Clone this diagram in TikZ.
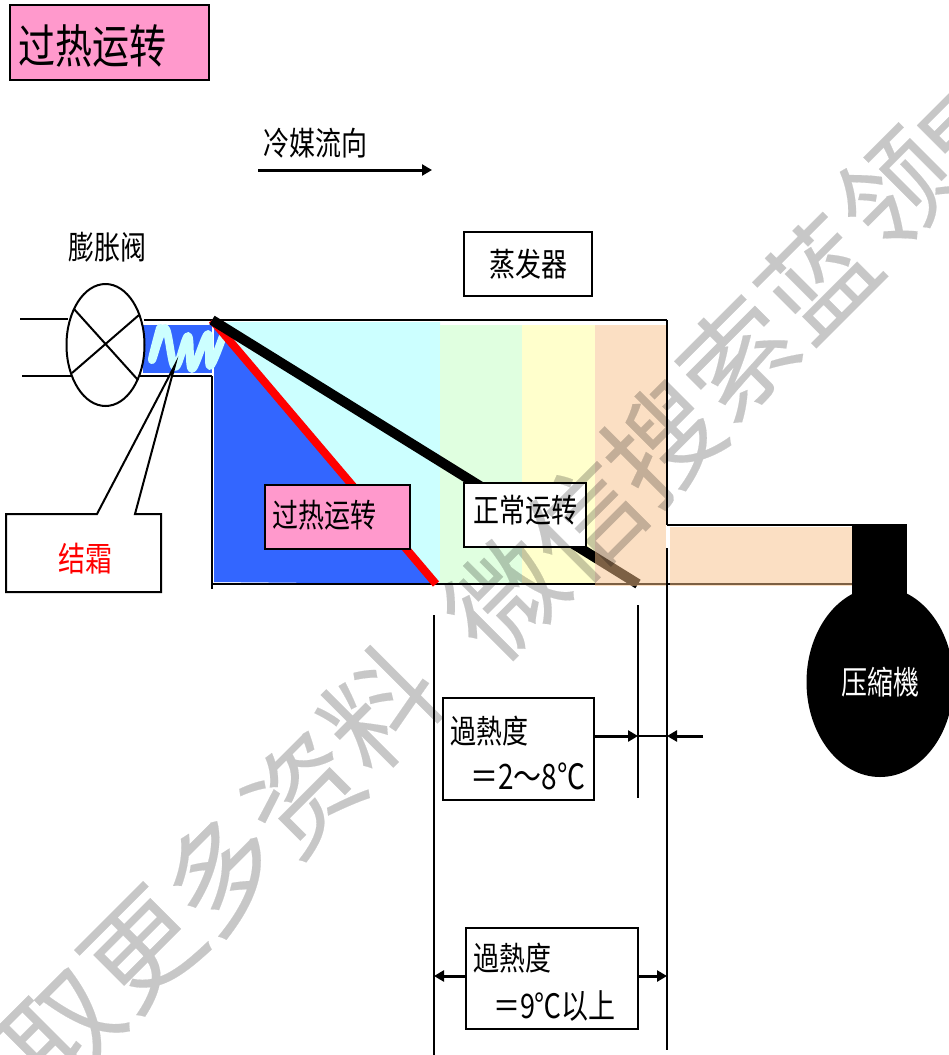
\documentclass[tikz,border=0pt]{standalone}
\usepackage{graphicx}
\usepackage{fontspec}
\setmainfont{Noto Sans CJK SC}
\newfontfamily\wmfont[FakeBold=0.15]{Noto Sans CJK SC}
\usetikzlibrary{arrows.meta,shapes.geometric}
\definecolor{pinkbox}{HTML}{FF99CC}
\definecolor{deepblue}{HTML}{3366FF}
\definecolor{frost}{HTML}{CCFFFF}
\definecolor{bandgreen}{HTML}{E0FFE0}
\definecolor{bandyellow}{HTML}{FFFFCC}
\definecolor{bandorange}{HTML}{F8C088}
\newcommand{\fs}[1]{\fontsize{#1}{#1}\selectfont}
\newcommand{\tall}[1]{\scalebox{1}[1.25]{#1}}
\tikzset{
  every node/.style={inner sep=0pt,outer sep=0pt},
  wall/.style={draw=black,line width=2pt},
  thinwall/.style={draw=black,line width=1.5pt},
  plain/.style={font=\fs{26},text=black},
  dimarrow/.style={line width=3pt,-{Triangle[length=10pt,width=11pt]},shorten >=0pt},
  wm/.style={text=black,font=\wmfont\fs{112},rotate=45},
}
\begin{document}
\begin{tikzpicture}[x=1pt,y=-1pt]
\useasboundingbox (0,0) rectangle (949,1055);
\fill[white] (0,0) rectangle (949,1055);
\begin{scope}
\clip (0,0) rectangle (949,1055);
% named points
\coordinate (inlet) at (212,320);
\coordinate (redend) at (436,584);
\coordinate (blackend) at (638,584);
\coordinate (pipeUL) at (20,319);
\coordinate (pipeLL) at (22,376);
\coordinate (pipeUR) at (144,320);
\coordinate (pipeLR) at (140,376);
\coordinate (innerL) at (212,376);
\coordinate (wallB) at (212,589);
\coordinate (topR) at (667,320);
\coordinate (botR) at (667,584);
\coordinate (outletT) at (667,525);
\coordinate (outletTR) at (852,525);
\coordinate (outletBR) at (852,584);
\coordinate (flowA) at (258,170);
\coordinate (flowB) at (432,170);
% colours
\fill[deepblue] (143,325) rectangle (212,373);
\fill[deepblue] (214,322) -- (redend) -- (214,582) -- cycle;
\fill[frost] (214,322) -- (440,322) -- (440,582) -- (redend) -- cycle;
\fill[bandgreen] (440,325) rectangle (522,584);
\fill[bandyellow] (522,325) rectangle (595,584);
% frost coil
\draw[frost,line width=8pt,line cap=round,line join=round]
  plot[smooth,tension=0.6] coordinates {(160,328) (152,360) (165,328) (175,367) (188,336) (192,369) (208,334) (210,366) (223,336)};
% outlines
\draw[wall] (inlet) -- (topR);
\draw[wall] (212,584) -- (botR);
\draw[thinwall] (innerL) -- (wallB);
\draw[wall] (pipeUR) -- (inlet);
\draw[wall] (pipeLR) -- (innerL);
% lines of the two regimes
\draw[red,line width=8pt] (inlet) -- (redend);
\draw[black,line width=10pt] (inlet) -- (blackend);
\draw[wall] (outletT) -- (outletTR);
\draw[wall] (botR) -- (outletBR);
% orange, lying over the lines
\fill[bandorange,opacity=0.5] (595,325) rectangle (666,586);
\fill[bandorange,opacity=0.5] (670,527) rectangle (852,586);
\draw[thinwall] (topR) -- (outletT);
% compressor
\fill[black] (852,524) rectangle (907,610);
\node[draw=none,fill=black,ellipse,minimum width=147pt,minimum height=190pt,font=\fs{26},text=white] (comp) at (880,682) {\raisebox{-3pt}{\tall{压縮機}}};
% valve
\draw[wall] (pipeUL) -- (68,319);
\draw[wall] (pipeLL) -- (72,376);
\node[draw=black,line width=2pt,fill=white,ellipse,minimum width=78pt,minimum height=122pt] (valve) at (105.5,345) {};
\coordinate (xa) at (74,309);
\coordinate (xb) at (138,380);
\coordinate (xc) at (139,315);
\coordinate (xd) at (72,373);
\draw[wall] (xa) -- (xb);
\draw[wall] (xc) -- (xd);
% callout
\coordinate (ctip) at (175,365);
\draw[wall,fill=white] (6,514) -- (97,514) -- (ctip) -- (135,514) -- (161,514) -- (161,592) -- (6,592) -- cycle;
\node[font=\fs{27},text=red] (frostlabel) at (85,559) {\tall{结霜}};
% labels
\node[draw=black,line width=2pt,fill=pinkbox,minimum width=199pt,minimum height=75pt] (titlebox) at (109.5,42.5) {};
\node[font=\fs{37},anchor=west] (title) at (18,46) {\tall{过热运转}};
\node[plain,anchor=west] (flowtext) at (263,143) {\tall{冷媒流向}};
\draw[line width=3pt,-{Triangle[length=10pt,width=11pt]}] (flowA) -- (flowB);
\node[plain] (valvetext) at (107,247) {\tall{膨胀阀}};
\node[draw=black,line width=2pt,fill=white,minimum width=128pt,minimum height=64pt,plain] (evap) at (528,264) {\raisebox{-2pt}{\tall{蒸发器}}};
\node[draw=black,line width=2pt,fill=pinkbox,minimum width=145pt,minimum height=64pt] (over) at (337.5,517) {};
\node[plain,anchor=west] (overtext) at (272,515) {\tall{过热运转}};
\node[draw=black,line width=2pt,fill=white,minimum width=122pt,minimum height=64pt,plain] (normal) at (525,515) {\raisebox{12pt}{\tall{正常运转}}};
% dimension lines
\coordinate (d1a) at (434,615);
\coordinate (d1b) at (434,1055);
\coordinate (d2a) at (638,605);
\coordinate (d2b) at (638,798);
\coordinate (d3a) at (667,548);
\coordinate (d3b) at (667,1050);
\draw[thinwall] (d1a) -- (d1b);
\draw[thinwall] (d2a) -- (d2b);
\draw[thinwall] (d3a) -- (d3b);
\node[draw=black,line width=2pt,fill=white,minimum width=151pt,minimum height=102pt] (sh1) at (518,749) {};
\node[plain,anchor=west] (sh1a) at (450,731) {\tall{過熱度}};
\node[font=\fs{28},anchor=west] (sh1b) at (470,776) {\tall{＝2～8℃}};
\node[draw=black,line width=2pt,fill=white,minimum width=172pt,minimum height=101pt] (sh2) at (552,978.5) {};
\node[plain,anchor=west] (sh2a) at (473,958) {\tall{過熱度}};
\node[font=\fs{27},anchor=west] (sh2b) at (493,1006) {\tall{＝9℃以上}};
\coordinate (m1) at (638,736);
\coordinate (m2) at (667,736);
\coordinate (m3) at (703,736);
\coordinate (m4) at (434,976);
\coordinate (m5) at (667,976);
\draw[dimarrow] (sh1.east |- m1) -- (m1);
\draw[black,line width=1.2pt] (m1) -- (m2);
\draw[dimarrow] (m3) -- (m2);
\draw[dimarrow] (sh2.west |- m4) -- (m4);
\draw[dimarrow] (sh2.east |- m5) -- (m5);
% watermark
\begin{scope}[transparency group,opacity=0.22]
\node[wm] (w1) at (63,1030) {取};
\node[wm] (w2) at (143,950) {更};
\node[wm] (w3) at (221,872) {多};
\node[wm] (w4) at (303,793) {资};
\node[wm] (w5) at (380,708) {料};
\node[wm] (w6) at (505,597) {微};
\node[wm] (w7) at (585,520) {信};
\node[wm] (w8) at (662,442) {搜};
\node[wm] (w9) at (737,357) {索};
\node[wm] (w10) at (817,277) {蓝};
\node[wm] (w11) at (895,190) {领};
\node[wm] (w12) at (977,133) {星};
\end{scope}
\end{scope}
\end{tikzpicture}
\end{document}
